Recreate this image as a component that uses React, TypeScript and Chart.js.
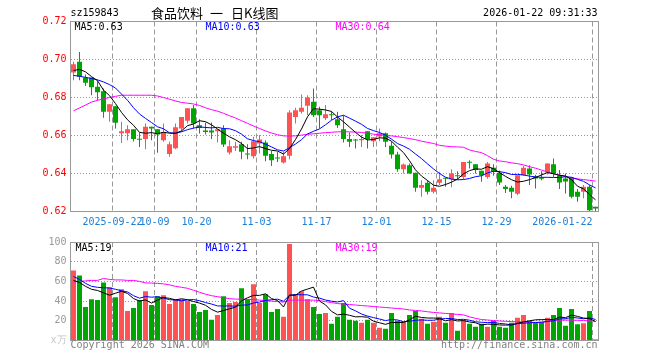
import { useEffect, useRef } from 'react';
import { Chart, registerables } from 'chart.js';

Chart.register(...registerables);

// ---------------- data ----------------
const dates = [
  '2025-09-11', '2025-09-12', '2025-09-15', '2025-09-16', '2025-09-17', '2025-09-18', '2025-09-19', '2025-09-22', '2025-09-23', '2025-09-24',
  '2025-09-25', '2025-09-26', '2025-09-29', '2025-09-30', '2025-10-09', '2025-10-10', '2025-10-13', '2025-10-14', '2025-10-15', '2025-10-16',
  '2025-10-17', '2025-10-20', '2025-10-21', '2025-10-22', '2025-10-23', '2025-10-24', '2025-10-27', '2025-10-28', '2025-10-29', '2025-10-30',
  '2025-10-31', '2025-11-03', '2025-11-04', '2025-11-05', '2025-11-06', '2025-11-07', '2025-11-10', '2025-11-11', '2025-11-12', '2025-11-13',
  '2025-11-14', '2025-11-17', '2025-11-18', '2025-11-19', '2025-11-20', '2025-11-21', '2025-11-24', '2025-11-25', '2025-11-26', '2025-11-27',
  '2025-11-28', '2025-12-01', '2025-12-02', '2025-12-03', '2025-12-04', '2025-12-05', '2025-12-08', '2025-12-09', '2025-12-10', '2025-12-11',
  '2025-12-12', '2025-12-15', '2025-12-16', '2025-12-17', '2025-12-18', '2025-12-19', '2025-12-22', '2025-12-23', '2025-12-24', '2025-12-25',
  '2025-12-26', '2025-12-29', '2025-12-30', '2025-12-31', '2026-01-05', '2026-01-06', '2026-01-07', '2026-01-08', '2026-01-09', '2026-01-12',
  '2026-01-13', '2026-01-14', '2026-01-15', '2026-01-16', '2026-01-19', '2026-01-20', '2026-01-21', '2026-01-22',
];

const openPrices = [
  0.6932, 0.6988, 0.6905, 0.6905, 0.6856, 0.6833, 0.6725, 0.6754, 0.6612, 0.6612,
  0.6633, 0.6581, 0.6581, 0.6646, 0.6633, 0.6575, 0.6502, 0.6533, 0.6637, 0.6677,
  0.6744, 0.6654, 0.6626, 0.6626, 0.6623, 0.6637, 0.6511, 0.6535, 0.6554, 0.6504,
  0.6491, 0.6558, 0.6563, 0.6502, 0.6482, 0.6458, 0.6493, 0.6698, 0.6725, 0.6756,
  0.6777, 0.6733, 0.6691, 0.6712, 0.6686, 0.6633, 0.6581, 0.6577, 0.6575, 0.6623,
  0.6570, 0.6595, 0.6612, 0.6546, 0.6500, 0.6423, 0.6444, 0.6404, 0.6325, 0.6351,
  0.6304, 0.6351, 0.6374, 0.6370, 0.6389, 0.6382, 0.6458, 0.6449, 0.6414, 0.6382,
  0.6430, 0.6404, 0.6330, 0.6325, 0.6293, 0.6391, 0.6426, 0.6384, 0.6374, 0.6405,
  0.6449, 0.6391, 0.6374, 0.6377, 0.6304, 0.6304, 0.6330, 0.6225,
];
const highPrices = [
  0.6988, 0.7040, 0.6921, 0.6905, 0.6886, 0.6847, 0.6765, 0.6754, 0.6672, 0.6654,
  0.6633, 0.6616, 0.6663, 0.6646, 0.6633, 0.6663, 0.6567, 0.6663, 0.6698, 0.6744,
  0.6760, 0.6686, 0.6668, 0.6668, 0.6633, 0.6654, 0.6575, 0.6567, 0.6567, 0.6554,
  0.6593, 0.6602, 0.6575, 0.6518, 0.6514, 0.6514, 0.6733, 0.6746, 0.6816, 0.6812,
  0.6847, 0.6751, 0.6760, 0.6726, 0.6725, 0.6705, 0.6616, 0.6581, 0.6602, 0.6623,
  0.6591, 0.6637, 0.6616, 0.6567, 0.6514, 0.6453, 0.6453, 0.6404, 0.6365, 0.6365,
  0.6365, 0.6409, 0.6377, 0.6423, 0.6412, 0.6461, 0.6470, 0.6449, 0.6414, 0.6461,
  0.6449, 0.6416, 0.6339, 0.6335, 0.6391, 0.6440, 0.6444, 0.6393, 0.6412, 0.6453,
  0.6479, 0.6418, 0.6400, 0.6382, 0.6318, 0.6339, 0.6339, 0.6225,
];
const lowPrices = [
  0.6891, 0.6891, 0.6861, 0.6812, 0.6786, 0.6693, 0.6672, 0.6637, 0.6561, 0.6575,
  0.6568, 0.6539, 0.6528, 0.6575, 0.6509, 0.6567, 0.6488, 0.6528, 0.6623, 0.6663,
  0.6637, 0.6611, 0.6605, 0.6581, 0.6563, 0.6540, 0.6500, 0.6518, 0.6475, 0.6475,
  0.6479, 0.6505, 0.6465, 0.6440, 0.6461, 0.6453, 0.6475, 0.6663, 0.6716, 0.6707,
  0.6698, 0.6637, 0.6682, 0.6681, 0.6640, 0.6563, 0.6540, 0.6532, 0.6540, 0.6532,
  0.6540, 0.6570, 0.6540, 0.6479, 0.6409, 0.6400, 0.6400, 0.6304, 0.6277, 0.6290,
  0.6295, 0.6340, 0.6330, 0.6328, 0.6370, 0.6370, 0.6426, 0.6400, 0.6356, 0.6372,
  0.6388, 0.6339, 0.6298, 0.6270, 0.6286, 0.6388, 0.6339, 0.6321, 0.6365, 0.6395,
  0.6382, 0.6318, 0.6295, 0.6270, 0.6251, 0.6270, 0.6198, 0.6198,
];
const closePrices = [
  0.6975, 0.6909, 0.6877, 0.6854, 0.6828, 0.6725, 0.6765, 0.6667, 0.6623, 0.6633,
  0.6581, 0.6578, 0.6646, 0.6637, 0.6605, 0.6619, 0.6554, 0.6644, 0.6698, 0.6744,
  0.6663, 0.6640, 0.6619, 0.6616, 0.6633, 0.6553, 0.6544, 0.6544, 0.6514, 0.6500,
  0.6570, 0.6579, 0.6493, 0.6470, 0.6479, 0.6491, 0.6721, 0.6733, 0.6746, 0.6800,
  0.6707, 0.6707, 0.6712, 0.6707, 0.6654, 0.6581, 0.6567, 0.6574, 0.6581, 0.6581,
  0.6591, 0.6612, 0.6567, 0.6500, 0.6423, 0.6447, 0.6400, 0.6325, 0.6339, 0.6304,
  0.6325, 0.6370, 0.6372, 0.6400, 0.6386, 0.6461, 0.6456, 0.6418, 0.6391, 0.6453,
  0.6409, 0.6353, 0.6318, 0.6304, 0.6391, 0.6430, 0.6395, 0.6374, 0.6372, 0.6453,
  0.6400, 0.6353, 0.6358, 0.6277, 0.6277, 0.6330, 0.6207, 0.6216,
];

// volume in units of 万
const volumes = [
  71, 66, 34, 42, 41, 59, 54, 44, 52, 30,
  33, 41, 50, 36, 45, 46, 37, 42, 42, 40,
  37, 29, 31, 21, 26, 45, 38, 39, 53, 42,
  57, 38, 47, 29, 32, 24, 98, 47, 50, 42,
  34, 27, 28, 17, 24, 38, 21, 20, 18, 21,
  18, 13, 12, 28, 20, 19, 26, 30, 22, 17,
  19, 24, 18, 28, 10, 21, 17, 14, 17, 14,
  20, 14, 13, 18, 23, 26, 20, 18, 19, 23,
  26, 33, 15, 32, 16.5, 17.5, 30, 1,
];

// MA30 lines (their history lies before the first bar)
const ma30Price = [
  0.6730, 0.6745, 0.6760, 0.6776, 0.6785, 0.6793, 0.6800, 0.6806, 0.6812, 0.6812,
  0.6812, 0.6812, 0.6812, 0.6812, 0.6808, 0.6800, 0.6791, 0.6782, 0.6774, 0.6770,
  0.6766, 0.6758, 0.6746, 0.6736, 0.6728, 0.6717, 0.6704, 0.6692, 0.6678, 0.6664,
  0.6650, 0.6637, 0.6624, 0.6613, 0.6604, 0.6598, 0.6597, 0.6598, 0.6602, 0.6606,
  0.6609, 0.6612, 0.6615, 0.6617, 0.6619, 0.6620, 0.6619, 0.6618, 0.6616, 0.6612,
  0.6607, 0.6603, 0.6600, 0.6598, 0.6594, 0.6589, 0.6584, 0.6578, 0.6570, 0.6564,
  0.6558, 0.6548, 0.6544, 0.6541, 0.6540, 0.6538, 0.6524, 0.6516, 0.6510, 0.6494,
  0.6475, 0.6466, 0.6462, 0.6456, 0.6452, 0.6445, 0.6436, 0.6428, 0.6418, 0.6408,
  0.6398, 0.6392, 0.6383, 0.6376, 0.6372, 0.6368, 0.6364, 0.6360,
];
const ma30Volume = [
  59.5, 60, 60.5, 61, 61, 63, 62, 61.5, 61.5, 61,
  61, 60, 58.5, 58.3, 58, 57.5, 56.5, 55, 54, 53,
  51, 49, 47, 45.5, 44.5, 43.5, 42.5, 42, 42, 41.8,
  41.5, 41, 40.5, 40, 39.5, 39, 41, 41, 41, 41,
  41, 40.5, 39.5, 38.5, 37.5, 37, 36.5, 36, 35.5, 35,
  34.5, 34, 33.5, 33, 32.5, 32, 31, 30.5, 30, 29.2,
  28.5, 28, 27.5, 27, 26.5, 26, 24, 22.5, 21.3, 20.8,
  20.2, 19.8, 19.5, 19.2, 19, 18.8, 18.6, 18.4, 18.3, 19.5,
  20.5, 20.7, 20.7, 20.7, 20.5, 20.3, 20, 19.3,
];

// MA5 / MA10 values of the first bars (their history lies before the first bar)
const ma5PriceHead = [0.6942, 0.6948, 0.6935, 0.6910];
const ma10PriceHead = [0.6916, 0.6912, 0.6906, 0.6900, 0.6893, 0.6882, 0.6868, 0.6850, 0.6818];
const ma5VolumeHead = [61, 59, 55, 52];
const ma10VolumeHead = [65, 62, 58, 55, 54, 53.5, 53.3, 52, 50.5];

const axisDates = ['2025-09-22', '2025-10-09', '2025-10-20', '2025-11-03', '2025-11-17', '2025-12-01', '2025-12-15', '2025-12-29', '2026-01-22'];
const axisLabels = ['2025-09-22', '10-09', '10-20', '11-03', '11-17', '12-01', '12-15', '12-29', '2026-01-22'];

const priceMin = 0.62;
const priceMax = 0.72;
const priceStep = 0.02;
const volumeMin = 0;
const volumeMax = 100;
const volumeStep = 20;

const symbolCode = 'sz159843';
const titleParts = ['食品饮料', '一', '日K线图'];
const timestamp = '2026-01-22 09:31:33';
const copyrightText = 'Copyright 2026 SINA.COM';
const siteText = 'http://finance.sina.com.cn';
const volumeUnit = 'x万';

// ---------------- styles ----------------
const RED = '#ff5353';
const GREEN = '#00a600';
const MONO = '"DejaVu Sans Mono", monospace';
const CJK = '"Noto Sans CJK SC", sans-serif';
const FRAME = '#999999';
const GRID_V = '#999999';
const GRID_H = '#999999';
const MA_COLORS = ['#000000', '#0000ff', '#ff00ff'];

function movingAverage(values: number[], n: number, head: number[]): number[] {
  return values.map((_, i) => {
    if (i < n - 1) return head[i];
    let s = 0;
    for (let k = i - n + 1; k <= i; k++) s += values[k];
    return s / n;
  });
}

const ma5Price = movingAverage(closePrices, 5, ma5PriceHead);
const ma10Price = movingAverage(closePrices, 10, ma10PriceHead);
const ma5Volume = movingAverage(volumes, 5, ma5VolumeHead);
const ma10Volume = movingAverage(volumes, 10, ma10VolumeHead);

const barColors = closePrices.map((c, i) => (c >= openPrices[i] ? RED : GREEN));

const last = dates.length - 1;
const priceLegend = [
  `MA5:${ma5Price[last].toFixed(2)}`,
  `MA10:${ma10Price[last].toFixed(2)}`,
  `MA30:${ma30Price[last].toFixed(2)}`,
];
const volumeLegend = [
  `MA5:${ma5Volume[last].toFixed(0)}`,
  `MA10:${ma10Volume[last].toFixed(0)}`,
  `MA30:${ma30Volume[last].toFixed(0)}`,
];

function lineDataset(label: string, data: number[], color: string) {
  return {
    type: 'line' as const,
    label,
    data,
    borderColor: color,
    borderWidth: 1,
    pointRadius: 0,
    tension: 0,
    fill: false,
  };
}

function xScale() {
  return {
    type: 'category' as const,
    offset: true,
    ticks: { display: false, autoSkip: false },
    grid: { display: false, drawTicks: false },
    border: { display: true, color: FRAME },
  };
}

// x pixel of the grid line at the left edge of a date's slot
function gridX(chart: any, date: string): number {
  const xs = chart.scales.x;
  const idx = dates.indexOf(date);
  const half = (xs.getPixelForValue(1) - xs.getPixelForValue(0)) / 2;
  return xs.getPixelForValue(idx) - half;
}

// dashed vertical date lines
function drawDateLines(chart: any) {
  const { ctx, chartArea: a } = chart;
  ctx.save();
  ctx.strokeStyle = GRID_V;
  ctx.lineWidth = 1;
  ctx.setLineDash([5, 3]);
  ctx.beginPath();
  axisDates.forEach((d) => {
    const x = Math.floor(gridX(chart, d)) + 0.5;
    ctx.moveTo(x, a.top);
    ctx.lineTo(x, a.bottom);
  });
  ctx.stroke();
  ctx.restore();
}

function drawFrame(chart: any) {
  const { ctx, chartArea: a } = chart;
  ctx.save();
  ctx.strokeStyle = FRAME;
  ctx.lineWidth = 1;
  ctx.setLineDash([]);
  const l = Math.floor(a.left) + 0.5;
  const t = Math.floor(a.top) + 0.5;
  const r = Math.floor(a.right) + 0.5;
  const b = Math.floor(a.bottom) + 0.5;
  ctx.strokeRect(l, t, r - l, b - t);
  ctx.restore();
}

function drawLegend(ctx: CanvasRenderingContext2D, texts: string[], xs: number[], y: number) {
  ctx.font = `10px ${MONO}`;
  ctx.textAlign = 'left';
  ctx.textBaseline = 'middle';
  texts.forEach((t, i) => {
    ctx.fillStyle = MA_COLORS[i];
    ctx.fillText(t, xs[i], y);
  });
}

const priceDecor = {
  id: 'priceDecor',
  beforeDatasetsDraw(chart: any) {
    drawDateLines(chart);
  },
  afterDraw(chart: any) {
    const { ctx, chartArea: a } = chart;
    drawFrame(chart);
    ctx.save();
    // header
    ctx.fillStyle = '#000';
    ctx.textBaseline = 'middle';
    ctx.font = `10px ${MONO}`;
    ctx.textAlign = 'left';
    ctx.fillText(symbolCode, a.left, 13);
    ctx.textAlign = 'right';
    ctx.fillText(timestamp, a.right - 1, 13);
    ctx.font = `13px ${CJK}`;
    ctx.textAlign = 'left';
    const titleX = [151, 210, 231];
    titleParts.forEach((p, i) => ctx.fillText(p, titleX[i], 13));
    // legend inside the plot
    drawLegend(ctx, priceLegend, [a.left + 4, a.left + 135, a.left + 265], a.top + 5.5);
    // x axis labels at the grid lines
    ctx.font = `10px ${MONO}`;
    ctx.fillStyle = '#1c7ed6';
    ctx.textBaseline = 'middle';
    axisDates.forEach((d, i) => {
      ctx.textAlign = i === axisDates.length - 1 ? 'right' : 'center';
      ctx.fillText(axisLabels[i], gridX(chart, d), a.bottom + 10.5);
    });
    ctx.restore();
  },
};

const volumeDecor = {
  id: 'volumeDecor',
  beforeDatasetsDraw(chart: any) {
    drawDateLines(chart);
  },
  afterDraw(chart: any) {
    const { ctx, chartArea: a } = chart;
    drawFrame(chart);
    ctx.save();
    drawLegend(ctx, volumeLegend, [a.left + 5, a.left + 135, a.left + 265], a.top + 6.5);
    ctx.font = `10px ${MONO}`;
    ctx.fillStyle = '#808080';
    ctx.textBaseline = 'middle';
    ctx.textAlign = 'left';
    ctx.fillText(copyrightText, a.left, a.bottom + 5);
    ctx.textAlign = 'right';
    ctx.fillText(siteText, a.right - 1, a.bottom + 5);
    ctx.restore();
  },
};

export default function App() {
  const priceRef = useRef<HTMLCanvasElement | null>(null);
  const volumeRef = useRef<HTMLCanvasElement | null>(null);

  useEffect(() => {
    if (!priceRef.current || !volumeRef.current) return;

    const priceChart = new Chart(priceRef.current, {
      type: 'bar',
      data: {
        labels: dates,
        datasets: [
          lineDataset('MA5', ma5Price, MA_COLORS[0]),
          lineDataset('MA10', ma10Price, MA_COLORS[1]),
          lineDataset('MA30', ma30Price, MA_COLORS[2]),
          {
            type: 'bar',
            label: 'body',
            data: dates.map((_, i) => [openPrices[i], closePrices[i]]),
            backgroundColor: barColors,
            borderWidth: 0,
            barThickness: 5,
            grouped: false,
            minBarLength: 1,
            inflateAmount: 0,
          },
          {
            type: 'bar',
            label: 'wick',
            data: dates.map((_, i) => [lowPrices[i], highPrices[i]]),
            backgroundColor: barColors,
            borderWidth: 0,
            barThickness: 1,
            grouped: false,
            inflateAmount: 0,
          },
        ] as any,
      },
      options: {
        responsive: false,
        animation: false,
        events: [],
        layout: { padding: { left: 0, right: 61.5, top: 21.5, bottom: 20.5 } },
        plugins: { legend: { display: false }, tooltip: { enabled: false } },
        scales: {
          x: xScale() as any,
          y: {
            min: priceMin,
            max: priceMax,
            afterFit: (s: any) => {
              s.width = 70.5;
            },
            ticks: {
              stepSize: priceStep,
              color: '#ff0000',
              padding: 4,
              font: { family: MONO, size: 10 },
              callback: (v: any) => Number(v).toFixed(2),
            },
            grid: {
              drawTicks: false,
              lineWidth: 1,
              color: (ctx: any) => {
                const v = ctx.tick ? ctx.tick.value : 0;
                return Math.abs(v - priceMin) < 1e-6 || Math.abs(v - priceMax) < 1e-6 ? 'rgba(0,0,0,0)' : GRID_H;
              },
            },
            border: { display: true, color: FRAME, dash: [1, 2] },
          },
        },
      },
      plugins: [priceDecor],
    });

    const volumeChart = new Chart(volumeRef.current, {
      type: 'bar',
      data: {
        labels: dates,
        datasets: [
          lineDataset('MA5', ma5Volume, MA_COLORS[0]),
          lineDataset('MA10', ma10Volume, MA_COLORS[1]),
          lineDataset('MA30', ma30Volume, MA_COLORS[2]),
          {
            type: 'bar',
            label: 'volume',
            data: volumes,
            backgroundColor: barColors,
            borderWidth: 0,
            barThickness: 5,
            grouped: false,
            inflateAmount: 0,
          },
        ] as any,
      },
      options: {
        responsive: false,
        animation: false,
        events: [],
        layout: { padding: { left: 0, right: 61.5, top: 8.5, bottom: 19.5 } },
        plugins: { legend: { display: false }, tooltip: { enabled: false } },
        scales: {
          x: xScale() as any,
          y: {
            min: volumeMin,
            max: volumeMax,
            afterFit: (s: any) => {
              s.width = 70.5;
            },
            ticks: {
              stepSize: volumeStep,
              padding: 4,
              font: { family: MONO, size: 10 },
              color: (ctx: any) => (ctx.tick && ctx.tick.value === volumeMin ? '#c4c4c4' : '#999999'),
              callback: (v: any) => (Number(v) === volumeMin ? volumeUnit : String(v)),
            },
            grid: {
              drawTicks: false,
              lineWidth: 1,
              color: (ctx: any) => {
                const v = ctx.tick ? ctx.tick.value : 0;
                return v === volumeMin || v === volumeMax ? 'rgba(0,0,0,0)' : GRID_H;
              },
            },
            border: { display: true, color: FRAME, dash: [1, 2] },
          },
        },
      },
      plugins: [volumeDecor],
    });

    return () => {
      priceChart.destroy();
      volumeChart.destroy();
    };
  }, []);

  return (
    <div style={{ position: 'absolute', left: 0, top: 0, width: 660, height: 360, background: '#fff' }}>
      <canvas ref={priceRef} width={660} height={232} style={{ position: 'absolute', left: 0, top: 0, display: 'block' }} />
      <canvas ref={volumeRef} width={660} height={128} style={{ position: 'absolute', left: 0, top: 232, display: 'block' }} />
    </div>
  );
}
